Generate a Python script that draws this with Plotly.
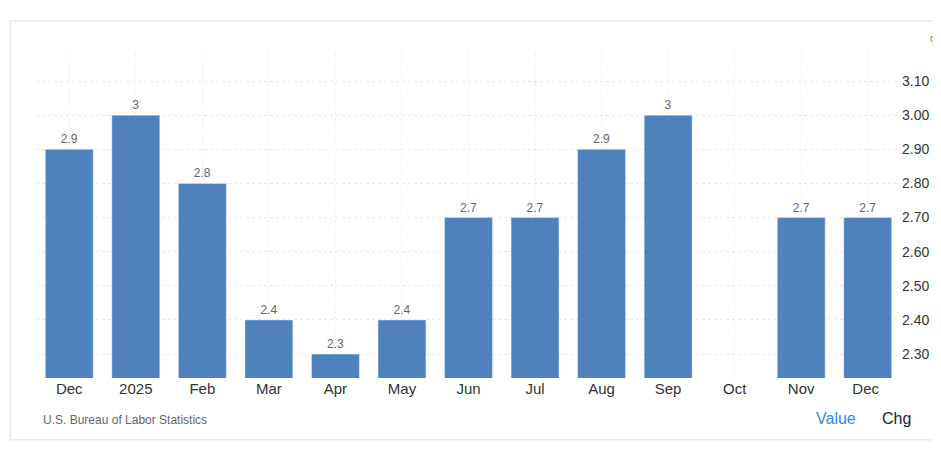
import plotly.graph_objects as go

categories = ["Dec", "2025", "Feb", "Mar", "Apr", "May", "Jun", "Jul", "Aug", "Sep", "Oct", "Nov", "Dec "]
values = [2.9, 3.0, 2.8, 2.4, 2.3, 2.4, 2.7, 2.7, 2.9, 3.0, None, 2.7, 2.7]
labels = ["" if v is None else f"{v:g}" for v in values]
yticks = [2.3, 2.4, 2.5, 2.6, 2.7, 2.8, 2.9, 3.0, 3.1]

fig = go.Figure(go.Bar(
    x=categories, y=values, text=labels, textposition="outside",
    textfont=dict(size=12, color="#666666", family="Arial"),
    marker=dict(color="#4f81bd"), cliponaxis=False, width=0.72,
))
fig.update_layout(
    width=941, height=452, plot_bgcolor="white", paper_bgcolor="white",
    margin=dict(l=28, r=48, t=44, b=82), showlegend=False,
    font=dict(family="Arial", color="#333333"),
    xaxis=dict(showgrid=True, gridcolor="#eeeeee", griddash="dot", tickfont=dict(size=15, color="#333"),
               ticks="", showline=False),
    yaxis=dict(side="right", range=[2.23, 3.185], tickvals=yticks,
               ticktext=[f"{t:.2f}" for t in yticks], tickfont=dict(size=14, color="#333"),
               showgrid=True, gridcolor="#e6e6e6", griddash="dot", zeroline=False),
    shapes=[dict(type="rect", xref="paper", yref="paper", x0=-0.03, x1=1.055, y0=-0.19, y1=1.095,
                 line=dict(color="#dddddd", width=1))],
    annotations=[
        dict(text="%", xref="paper", yref="paper", x=1.04, y=1.06, showarrow=False,
             font=dict(size=12, color="#666"), xanchor="center"),
        dict(text="U.S. Bureau of Labor Statistics", xref="paper", yref="paper", x=0.006, y=-0.155,
             showarrow=False, xanchor="left", font=dict(size=12, color="#666")),
        dict(text="Value", xref="paper", yref="paper", x=0.925, y=-0.155,
             showarrow=False, xanchor="center", font=dict(size=16, color="#2b8be6")),
        dict(text="Chg", xref="paper", yref="paper", x=0.995, y=-0.155,
             showarrow=False, xanchor="center", font=dict(size=16, color="#222")),
    ],
)
fig.write_html("out.html")
